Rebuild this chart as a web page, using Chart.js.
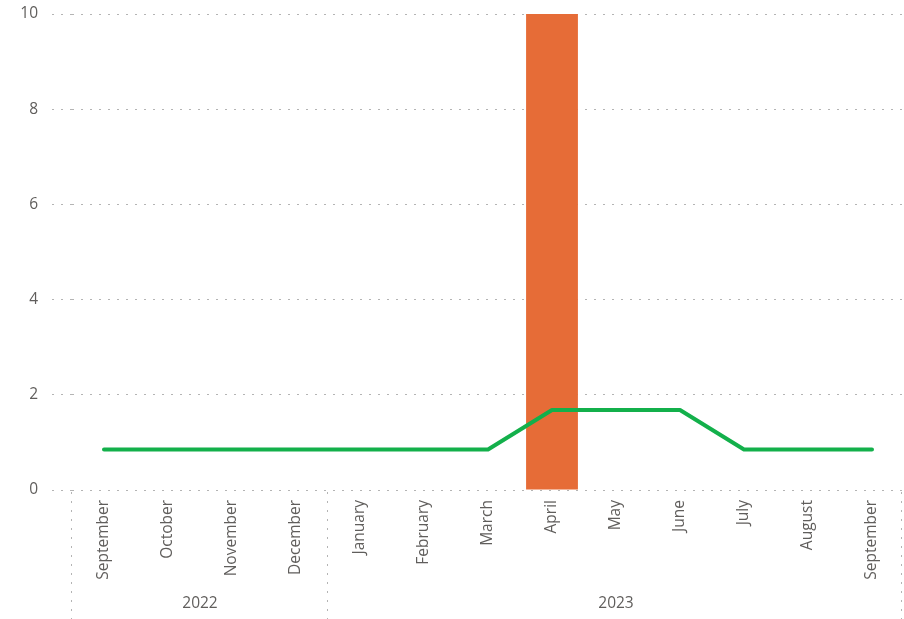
<!DOCTYPE html>
<html>
<head>
<meta charset="utf-8">
<script src="https://cdn.jsdelivr.net/npm/chart.js@4/dist/chart.umd.min.js"></script>
<style>
  html, body { margin: 0; padding: 0; background: #fff; }
  #wrap { width: 904px; height: 619px; }
</style>
</head>
<body>
<div id="wrap"><canvas id="chart"></canvas></div>
<script>
const months = ['September', 'October', 'November', 'December', 'January', 'February',
    'March', 'April', 'May', 'June', 'July', 'August', 'September']
const years = ['2022', '2023']
const yearSpans = [4, 9]
const barValues = [null, null, null, null, null, null, null, 10, null, null, null, null, null]
const lineValues = [0.85, 0.85, 0.85, 0.85, 0.85, 0.85, 0.85, 1.68, 1.68, 1.68, 0.85, 0.85, 0.85]
const yTicks = [0, 2, 4, 6, 8, 10]

const gridColor = '#b4b4b4'
const textColor = '#605e5c'
const fontFamily = '"Open Sans", "Noto Sans", sans-serif'
const dots = [2, 7]

// year row under the month labels, with dotted separators
const yearGroups = {
    id: 'yearGroups',
    afterDraw(chart) {
        const x = chart.scales.x
        const ctx = chart.ctx
        const half = (x.getPixelForValue(1) - x.getPixelForValue(0)) / 2
        const top = chart.chartArea.bottom + 2
        const bottom = chart.height
        ctx.save()
        ctx.strokeStyle = gridColor
        ctx.lineWidth = 1
        ctx.setLineDash(dots)
        ctx.fillStyle = textColor
        ctx.font = '15.5px ' + fontFamily
        ctx.textAlign = 'center'
        ctx.textBaseline = 'middle'
        let start = 0
        const edges = [x.getPixelForValue(0) - half]
        yearSpans.forEach((span, i) => {
            const left = x.getPixelForValue(start) - half
            const right = x.getPixelForValue(start + span - 1) + half
            edges.push(right)
            ctx.fillText(years[i], (left + right) / 2, 604)
            start += span
        })
        edges.forEach(e => {
            const px = Math.min(Math.round(e) - 0.5, chart.width - 2.5)
            ctx.beginPath()
            ctx.moveTo(px, top)
            ctx.lineTo(px, bottom)
            ctx.stroke()
        })
        ctx.restore()
    }
}

new Chart(document.getElementById('chart'), {
    data: {
        labels: months,
        datasets: [{
            type: 'line',
            data: lineValues,
            borderColor: '#13b04b',
            borderWidth: 4,
            borderCapStyle: 'round',
            borderJoinStyle: 'round',
            tension: 0,
            pointRadius: 0,
            order: 0
        }, {
            type: 'bar',
            data: barValues,
            backgroundColor: '#e66c37',
            barPercentage: 1,
            categoryPercentage: 0.81,
            order: 1
        }]
    },
    options: {
        responsive: true,
        maintainAspectRatio: false,
        animation: false,
        layout: { padding: { top: 14, right: 0, left: 0, bottom: 0 } },
        plugins: {
            legend: { display: false },
            tooltip: { enabled: false }
        },
        scales: {
            x: {
                offset: true,
                grid: { display: false },
                border: { display: false },
                ticks: {
                    color: textColor,
                    font: { family: fontFamily, size: 15.5 },
                    maxRotation: 90,
                    minRotation: 90,
                    autoSkip: false,
                    padding: 2
                },
                afterFit(scale) {
                    scale.height = 129
                    scale.paddingLeft = 0
                    scale.paddingRight = 0
                }
            },
            y: {
                min: 0,
                max: 10,
                afterBuildTicks(scale) { scale.ticks = yTicks.map(v => ({ value: v })) },
                grid: {
                    color: gridColor,
                    tickLength: 20,
                    tickColor: gridColor,
                    tickBorderDash: dots
                },
                border: { display: false, dash: dots },
                ticks: {
                    color: textColor,
                    font: { family: fontFamily, size: 15.5 },
                    padding: 14
                },
                afterFit(scale) {
                    scale.width = 72
                    scale.paddingTop = 0
                    scale.paddingBottom = 0
                }
            }
        }
    },
    plugins: [yearGroups]
})
</script>
</body>
</html>
